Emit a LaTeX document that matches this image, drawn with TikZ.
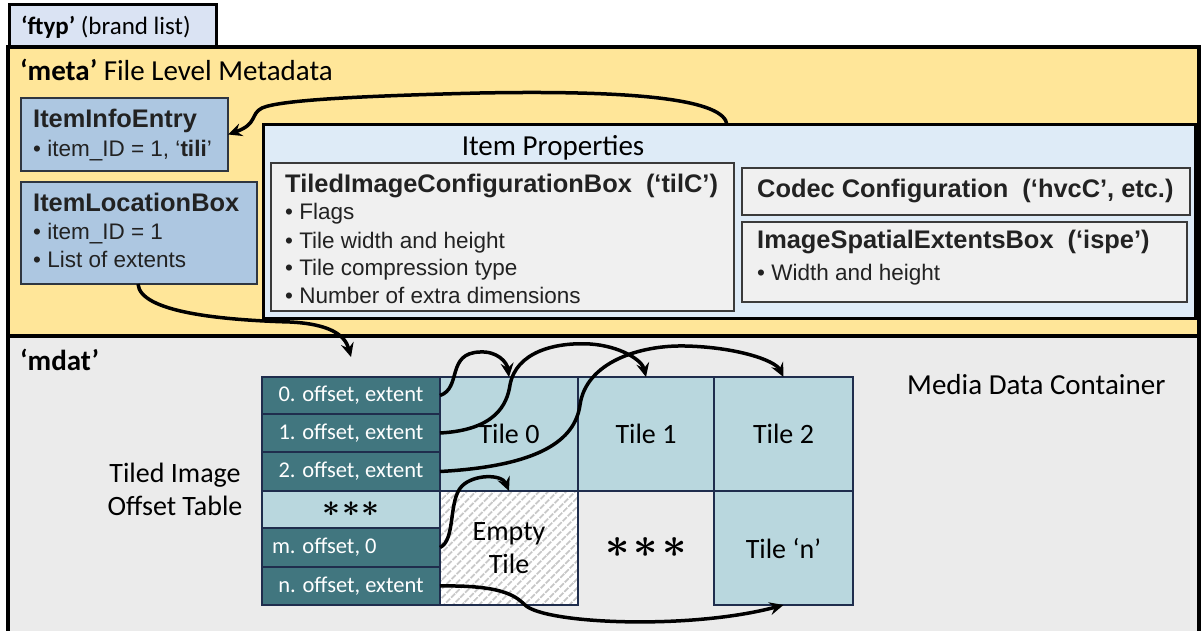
\documentclass[tikz,border=0pt]{standalone}
\usepackage{fontspec}
\setmainfont{Carlito}
\newfontfamily\arialf{Liberation Sans}
\usetikzlibrary{arrows.meta,patterns.meta,fit}
\definecolor{ftypc}{HTML}{DAE3F3}
\definecolor{metac}{HTML}{FFE699}
\definecolor{blueb}{HTML}{ADC7E1}
\definecolor{propc}{HTML}{DEEBF7}
\definecolor{innerc}{HTML}{F0F0F0}
\definecolor{mdatc}{HTML}{EBEBEB}
\definecolor{tealc}{HTML}{41767F}
\definecolor{ltealc}{HTML}{B9D7DE}
\definecolor{navyc}{HTML}{1F2D4D}
\definecolor{boxline}{HTML}{2F3640}
\definecolor{innerline}{HTML}{3A3A3A}
\definecolor{txtc}{HTML}{222222}
\newcommand\bigast[1]{\scalebox{#1}{\boldmath$\ast$}}
\tikzset{
  container/.style={draw=black, line width=3.5pt, inner sep=0pt, outer sep=0pt},
  bluebox/.style={draw=boxline, fill=blueb, line width=2.5pt, inner sep=0pt, outer sep=0pt},
  innerbox/.style={draw=innerline, fill=innerc, line width=1.5pt, inner sep=0pt, outer sep=0pt},
  ttl/.style={font=\arialf\bfseries\fontsize{25.4}{30}\selectfont, anchor=base west, inner sep=0pt, text=txtc},
  bul/.style={font=\arialf\fontsize{22.5}{27}\selectfont, anchor=base west, inner sep=0pt, text=txtc},
  cal/.style={font=\fontsize{29}{34}\selectfont, inner sep=0pt, text=black},
  trow/.style={draw=navyc, fill=tealc, line width=2pt, text=white, font=\fontsize{22.5}{27}\selectfont,
    minimum width=178pt, anchor=north west, inner sep=0pt, outer sep=0pt},
  tile/.style={draw=navyc, fill=ltealc, line width=1.5pt, font=\fontsize{28}{33}\selectfont, text=black,
    minimum height=114pt, anchor=north west, inner sep=0pt, outer sep=0pt, align=center},
  conn/.style={draw=black, line width=3.5pt, -{Stealth[length=14pt,width=13pt,inset=5pt]}}
}
\begin{document}
\begin{tikzpicture}[x=1pt,y=-1pt]
\useasboundingbox (0,0) rectangle (1202,631);
% containers
\node[container, line width=3pt, fill=ftypc, fit={(9,5) (216,47)}] (ftyp) {};
\node[cal, font=\fontsize{25}{30}\selectfont, anchor=base west] (ftyplbl) at (21,35) {\textbf{‘ftyp’} (brand list)};
\node[container, fill=metac, fit={(8,47) (1199,336)}] (meta) {};
\node[cal, anchor=base west] (metalbl) at (20,81) {\textbf{‘meta’} File Level Metadata};
\node[container, fill=mdatc, fit={(8,336) (1199,650)}] (mdat) {};
\node[cal, anchor=base west] (mdatlbl) at (20,370) {\textbf{‘mdat’}};
\node[cal, anchor=base west] (mdclbl) at (907,394) {Media Data Container};
\node[cal, font=\fontsize{28}{33}\selectfont, anchor=base] (tiotl1) at (175,482) {Tiled Image};
\node[cal, font=\fontsize{28}{33}\selectfont, anchor=base] (tiotl2) at (175,515) {Offset Table};
% meta contents
\node[bluebox, fit={(21,98) (228,171)}] (iie) {};
\node[ttl] (iiet) at (33,128) {ItemInfoEntry};
\node[bul] (iieb) at (33,157) {• item\_ID = 1, ‘\textbf{tili}’};
\node[bluebox, fit={(21,182) (257,284)}] (ilb) {};
\node[ttl] (ilbt) at (33,212) {ItemLocationBox};
\node[bul] (ilbb1) at (33,240) {• item\_ID = 1};
\node[bul] (ilbb2) at (33,267) {• List of extents};
\node[container, line width=3pt, fill=propc, fit={(263,125) (1195,318)}] (props) {};
\node[cal, anchor=base] (propt) at (553,156) {Item Properties};
\node[innerbox, fit={(271,163) (734,311)}] (tilc) {};
\node[ttl] (tilct) at (285,193) {TiledImageConfigurationBox\ \ (‘tilC’)};
\node[bul] (tilcb1) at (285,220) {• Flags};
\node[bul] (tilcb2) at (285,248) {• Tile width and height};
\node[bul] (tilcb3) at (285,275) {• Tile compression type};
\node[bul] (tilcb4) at (285,303) {• Number of extra dimensions};
\node[innerbox, fit={(742,168) (1190,215)}] (codec) {};
\node[ttl] (codect) at (757,198) {Codec Configuration\ \ (‘hvcC’, etc.)};
\node[innerbox, fit={(742,222) (1187,302)}] (ispe) {};
\node[ttl] (ispet) at (757,248) {ImageSpatialExtentsBox\ \ (‘ispe’)};
\node[bul] (ispeb) at (757,280) {• Width and height};
% offset table
\node[trow, minimum height=37pt] (r0) at (262,377) {0. offset, extent};
\node[trow, minimum height=38pt] (r1) at (262,414) {1. offset, extent};
\node[trow, minimum height=39pt] (r2) at (262,452) {2. offset, extent};
\node[trow, minimum height=37pt, fill=ltealc, text=black] (rs) at (262,491)
  {\bigast{1.5}\hspace{1.5pt}\bigast{1.5}\hspace{1.5pt}\bigast{1.5}};
\node[trow, minimum height=39pt] (rm) at (262,528) {};
\node[trow, anchor=west, draw=none, fill=none, minimum width=0pt] (rmlbl) at (272,547.5) {m. offset, 0};
\node[trow, minimum height=38pt] (rn) at (262,567) {n. offset, extent};
% tiles
\node[tile, minimum width=138pt] (t0) at (440,377) {Tile 0};
\node[tile, minimum width=136pt] (t1) at (578,377) {Tile 1};
\node[tile, minimum width=139pt] (t2) at (714,377) {Tile 2};
\node[tile, minimum width=138pt, fill=none, preaction={fill=white},
  pattern={Lines[angle=45,distance=6.5pt,line width=2pt]}, pattern color=gray!45] (te) at (440,491) {Empty\\Tile};
\node[tile, minimum width=136pt, draw=none, fill=none] (ts) at (578,491)
  {\bigast{1.7}\hspace{4pt}\bigast{1.7}\hspace{4pt}\bigast{1.7}};
\node[tile, minimum width=139pt] (tn) at (714,491) {Tile ‘n’};
% connectors
\coordinate (p1) at (727,125);
\coordinate (p2) at (138,284);
\coordinate (q2) at (351,357);
\draw[conn] (p1) .. controls (725,100) and (640,90) .. (480,93) .. controls (360,96) and (280,100) .. (262,108) .. controls (250,114) and (258,124) .. (iie.east);
\draw[conn] (p2) .. controls (140,312) and (220,320) .. (290,322) .. controls (330,324) and (345,335) .. (q2);
\draw[conn] (r0.east) .. controls (462,388) and (446,353) .. (480,352) .. controls (497,351) and (507,362) .. (t0.north);
\draw[conn] (r1.east) .. controls (495,430) and (507,405) .. (510,385) .. controls (516,352) and (555,342) .. (590,344) .. controls (620,346) and (642,360) .. (t1.north);
\draw[conn] (r2.east) .. controls (540,466) and (575,440) .. (580,405) .. controls (586,362) and (640,345) .. (685,346) .. controls (735,347) and (775,360) .. (t2.north);
\draw[conn] (rm.east) .. controls (456,540) and (448,500) .. (462,486) .. controls (474,474) and (502,474) .. (te.north);
\draw[conn] (rn.east) .. controls (500,585) and (515,595) .. (525,605) .. controls (545,624) and (690,630) .. (tn.south);
\end{tikzpicture}
\end{document}
